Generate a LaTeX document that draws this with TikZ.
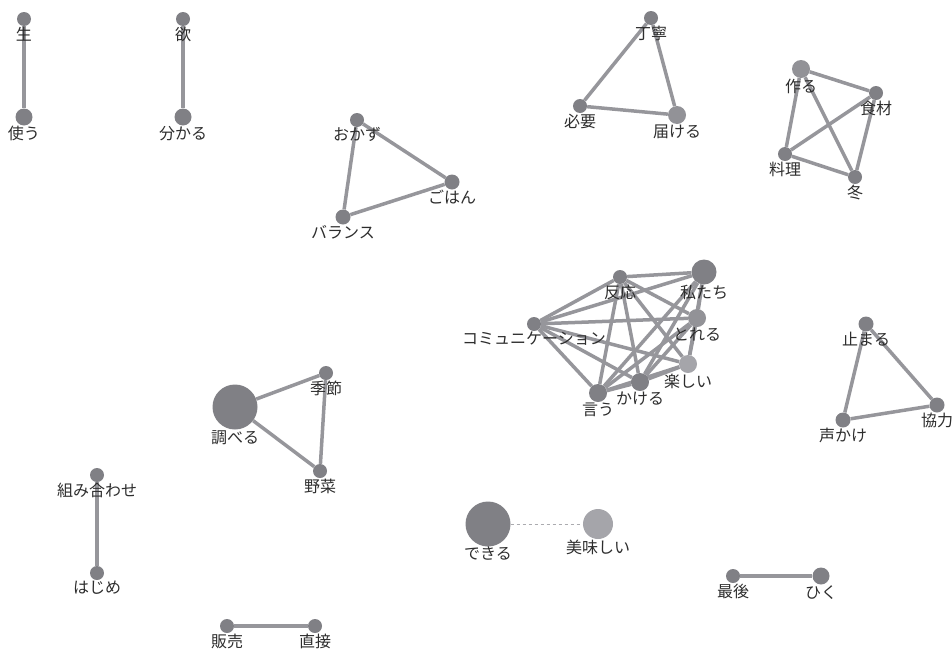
\documentclass[tikz,border=0pt]{standalone}
\usepackage{fontspec}
\setmainfont{Noto Sans CJK JP}
\definecolor{dotdark}{RGB}{128, 128, 133}
\definecolor{dotmid}{RGB}{146, 146, 151}
\definecolor{dotlight}{RGB}{165, 165, 170}
\definecolor{linkgray}{RGB}{150, 150, 155}
\definecolor{textgray}{RGB}{45, 45, 45}
\usetikzlibrary{backgrounds}

\begin{document}
\begin{tikzpicture}[x=1pt, y=-1pt,
    word/.style={circle, fill=dotdark, inner sep=0pt, minimum size=#1},
    word/.default=12pt,
    lbl/.style={inner sep=0.3pt, text=textgray, font=\fontsize{16}{16}\selectfont},
    link/.style={draw=linkgray, line width=3.5pt},
    weak/.style={draw=linkgray!80, line width=1pt, dashed}]
  \useasboundingbox (0,0) rectangle (952,648);

  % pairs on the left
  \node[word=14pt, label={[lbl]below:生}] (sei) at (24,19) {};
  \node[word=17pt, label={[lbl]below:使う}] (tsukau) at (24,117) {};
  \node[word=14pt, label={[lbl]below:欲}] (yoku) at (183,19) {};
  \node[word=17pt, label={[lbl]below:分かる}] (wakaru) at (183,117) {};

  % okazu triangle
  \node[word=14pt, label={[lbl]below:おかず}] (okazu) at (357,120) {};
  \node[word=15pt, label={[lbl]below:ごはん}] (gohan) at (452,182) {};
  \node[word=15pt, label={[lbl]below:バランス}] (balance) at (343,217) {};

  % teinei triangle
  \node[word=14pt, label={[lbl]below:丁寧}] (teinei) at (651,18) {};
  \node[word=14pt, label={[lbl]below:必要}] (hitsuyo) at (580,106) {};
  \node[word=18pt, fill=dotmid, label={[lbl]below:届ける}] (todokeru) at (677,115) {};

  % cooking group
  \node[word=18pt, fill=dotmid, label={[lbl]below:作る}] (tsukuru) at (801,69) {};
  \node[word=14pt, label={[lbl]below:食材}] (shokuzai) at (876,93) {};
  \node[word=14pt, label={[lbl]below:料理}] (ryori) at (785,154) {};
  \node[word=14pt, label={[lbl]below:冬}] (fuyu) at (855,177) {};

  % communication cluster
  \node[word=14pt, label={[lbl]below:反応}] (hanno) at (620,277) {};
  \node[word=25pt, label={[lbl]below:私たち}] (watashi) at (704,272) {};
  \node[word=14pt, label={[lbl]below:コミュニケーション}] (comm) at (534,324) {};
  \node[word=18pt, fill=dotmid, label={[lbl]below:とれる}] (toreru) at (697,318) {};
  \node[word=18pt, fill=dotlight, label={[lbl]below:楽しい}] (tanoshii) at (688,364) {};
  \node[word=18pt, label={[lbl]below:かける}] (kakeru) at (640,382) {};
  \node[word=18pt, label={[lbl]below:言う}] (iu) at (598,393) {};

  % tomaru triangle
  \node[word=15pt, label={[lbl]below:止まる}] (tomaru) at (866,324) {};
  \node[word=15pt, label={[lbl]below:声かけ}] (koekake) at (843,420) {};
  \node[word=15pt, label={[lbl]below:協力}] (kyoryoku) at (937,405) {};

  % shiraberu triangle
  \node[word=14pt, label={[lbl]below:季節}] (kisetsu) at (326,373) {};
  \node[word=45pt, label={[lbl]below:調べる}] (shiraberu) at (235,407) {};
  \node[word=14pt, label={[lbl]below:野菜}] (yasai) at (320,471) {};

  % the rest
  \node[word=14pt, label={[lbl]below:組み合わせ}] (kumiawase) at (97,475) {};
  \node[word=14pt, label={[lbl]below:はじめ}] (hajime) at (97,573) {};
  \node[word=45pt, label={[lbl]below:できる}] (dekiru) at (488,524) {};
  \node[word=30pt, fill=dotlight, label={[lbl]below:美味しい}] (oishii) at (598,524) {};
  \node[word=14pt, label={[lbl]below:最後}] (saigo) at (733,576) {};
  \node[word=17pt, label={[lbl]below:ひく}] (hiku) at (821,576) {};
  \node[word=14pt, label={[lbl]below:販売}] (hanbai) at (227,626) {};
  \node[word=14pt, label={[lbl]below:直接}] (chokusetsu) at (315,626) {};

  \begin{scope}[on background layer]
    \draw[link] (sei) -- (tsukau);
    \draw[link] (yoku) -- (wakaru);
    \draw[link] (okazu) -- (gohan) -- (balance) -- (okazu);
    \draw[link] (teinei) -- (hitsuyo) -- (todokeru) -- (teinei);
    \draw[link] (tsukuru) -- (shokuzai) -- (fuyu) -- (ryori) -- (tsukuru);
    \draw[link] (tsukuru) -- (fuyu);
    \draw[link] (shokuzai) -- (ryori);
    \foreach \a/\b in {hanno/watashi, hanno/comm, hanno/toreru, hanno/tanoshii,
        hanno/kakeru, hanno/iu, watashi/comm, watashi/toreru, watashi/tanoshii,
        watashi/kakeru, watashi/iu, comm/toreru, comm/tanoshii, comm/kakeru,
        comm/iu, toreru/tanoshii, toreru/kakeru, toreru/iu, tanoshii/kakeru,
        tanoshii/iu, kakeru/iu}
      \draw[link] (\a) -- (\b);
    \draw[link] (tomaru) -- (kyoryoku) -- (koekake) -- (tomaru);
    \draw[link] (shiraberu) -- (kisetsu) -- (yasai) -- (shiraberu);
    \draw[link] (kumiawase) -- (hajime);
    \draw[weak] (dekiru) -- (oishii);
    \draw[link] (saigo) -- (hiku);
    \draw[link] (hanbai) -- (chokusetsu);
  \end{scope}
\end{tikzpicture}
\end{document}
